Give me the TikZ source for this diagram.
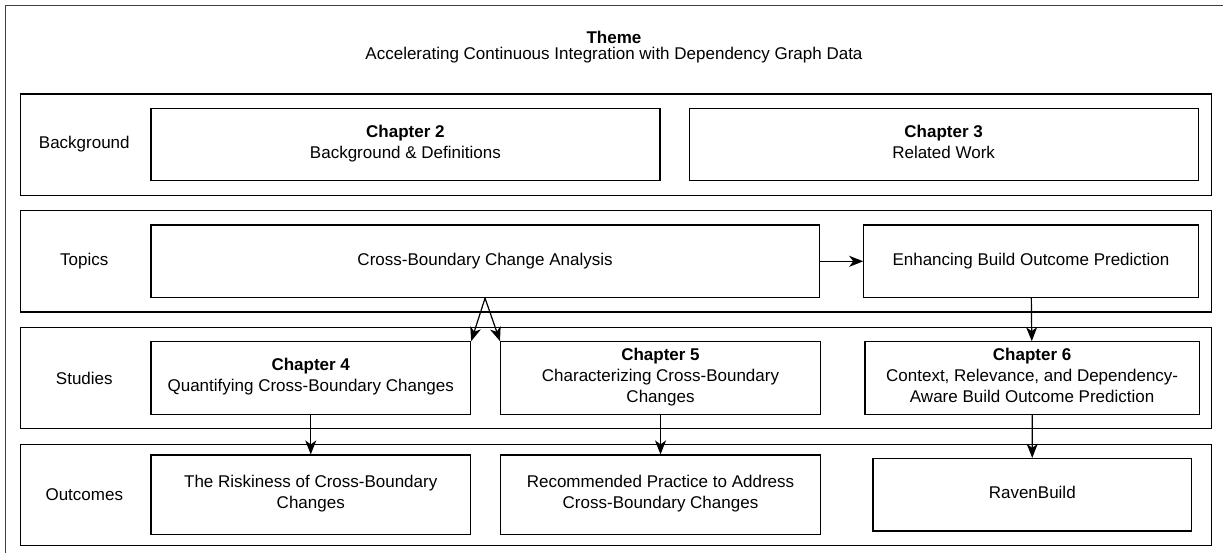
\documentclass[tikz,border=0pt]{standalone}
\usepackage{fontspec}
\setmainfont{Liberation Sans}
\usetikzlibrary{positioning, arrows.meta}

\begin{document}
\begin{tikzpicture}[
    x=1pt, y=-1pt,
    font=\fontsize{17}{21}\selectfont,
    >={Stealth[length=14pt, width=11pt, inset=4pt]},
    band/.style={rectangle, draw, line width=1.2pt, minimum width=1191pt, minimum height=101.2pt, inner sep=0pt},
    chapbox/.style={rectangle, draw, line width=1.2pt, minimum height=72.5pt, inner sep=0pt, align=center,
        execute at begin node=\strut, execute at end node=\strut},
    outbox/.style={chapbox, minimum height=79.4pt},
    link/.style={->, line width=1.2pt}
]

% page and outer frame (cut off at right and bottom)
\clip (0,0) rectangle (1223,552);
\draw[line width=1.4pt, black!75] (5.5,5.5) rectangle (1240,570);

% Theme
\node (theme) at (614,37.5) {\textbf{Theme}};
\node (themesub) at (614,55.5) {Accelerating Continuous Integration with Dependency Graph Data};

% Rows
\node[band] (bgband) at (616.1,144.6) {};
\node[band, below=14.3pt of bgband] (topband) {};
\node[band, below=14.3pt of topband] (stuband) {};
\node[band, below=14.3pt of stuband] (outband) {};

\node (bglabel) at ([xshift=64.3pt]bgband.west) {Background};
\node (toplabel) at ([xshift=64.3pt]topband.west) {Topics};
\node (stulabel) at ([xshift=64.3pt]stuband.west) {Studies};
\node (outlabel) at ([xshift=64.3pt]outband.west) {Outcomes};

% Background
\node[chapbox, minimum width=509pt, right=130.3pt of bgband.west] (ch2) {\textbf{Chapter 2}\\Background \& Definitions};
\node[chapbox, minimum width=509pt, right=28pt of ch2] (ch3) {\textbf{Chapter 3}\\Related Work};

% Topics
\node[chapbox, minimum width=668.3pt, right=130.3pt of topband.west] (cba) {Cross-Boundary Change Analysis};
\node[chapbox, minimum width=334.3pt, right=43.4pt of cba] (ebop) {Enhancing Build Outcome Prediction};

% Studies
\node[chapbox, minimum width=319.7pt, right=130.3pt of stuband.west] (ch4) {\textbf{Chapter 4}\\Quantifying Cross-Boundary Changes};
\node[chapbox, minimum width=319.8pt, right=28.8pt of ch4] (ch5) {\textbf{Chapter 5}\\Characterizing Cross-Boundary\\Changes};
\node[chapbox, minimum width=334.3pt, right=43.4pt of ch5] (ch6) {\textbf{Chapter 6}\\Context, Relevance, and Dependency-\\Aware Build Outcome Prediction};

% Outcomes
\node[outbox, minimum width=319.7pt, right=130.3pt of outband.west] (risk) {The Riskiness of Cross-Boundary\\Changes};
\node[outbox, minimum width=319.8pt, right=28.8pt of risk] (recp) {Recommended Practice to Address\\Cross-Boundary Changes};
\node[chapbox, minimum width=318.7pt, right=51.3pt of recp] (raven) {RavenBuild};

% Edges
\draw[link] (cba) -- (ebop);
\draw[link] (ebop) -- (ch6);
\draw[link] (cba.south) -- (ch4.north east);
\draw[link] (cba.south) -- (ch5.north west);
\draw[link] (ch4) -- (risk);
\draw[link] (ch5) -- (recp);
\draw[link] (ch6) -- (raven);

\end{tikzpicture}
\end{document}
